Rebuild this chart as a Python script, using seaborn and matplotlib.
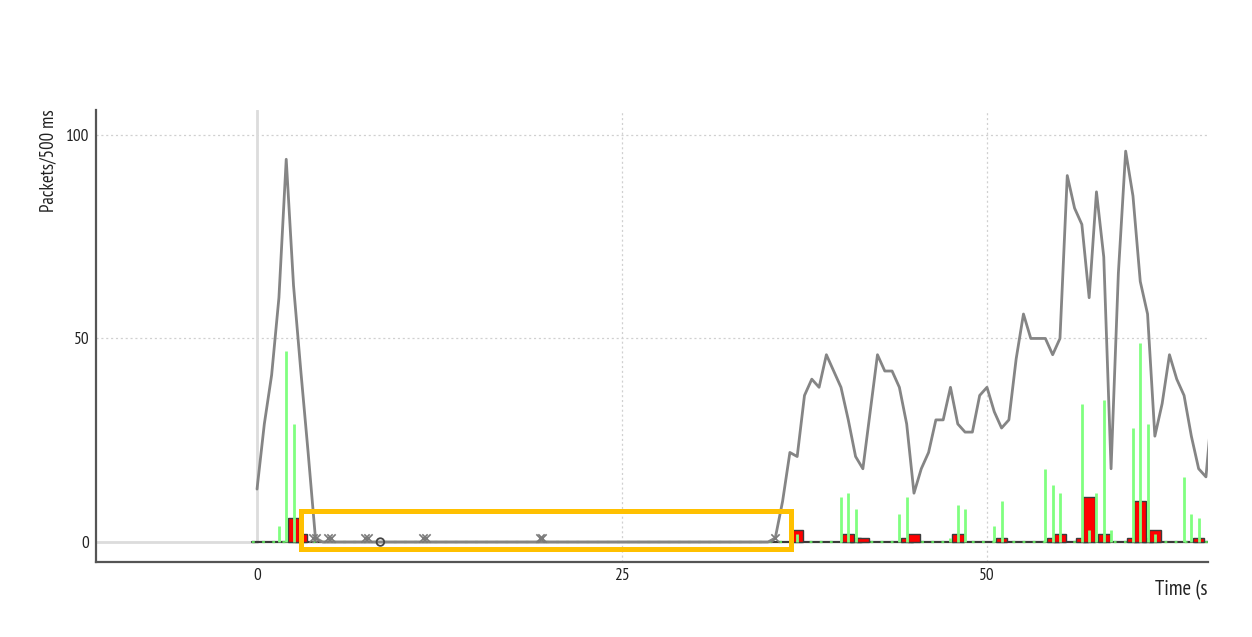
import numpy as np
import pandas as pd
import matplotlib
matplotlib.use("Agg")
import matplotlib.pyplot as plt
from matplotlib.patches import Rectangle
from matplotlib.ticker import MultipleLocator
import seaborn as sns

# ---------------- data ----------------
INTERVAL = 0.5  # seconds per bin (Packets/500 ms)

# all packets per 500 ms, one value per bin starting at t = 0
all_packets = [
    13, 29, 41, 60, 94, 63, 42, 22, 1,
    0, 0, 0, 0, 0, 0, 0, 0, 0, 0, 0, 0, 0, 0, 0, 0, 0, 0, 0, 0, 0, 0,
    0, 0, 0, 0, 0, 0, 0, 0, 0, 0, 0, 0, 0, 0, 0, 0, 0, 0, 0, 0, 0, 0,
    0, 0, 0, 0, 0, 0, 0, 0, 0, 0, 0, 0, 0, 0, 0, 0, 0, 0,
    1,
    10, 22, 21, 36, 40, 38, 46, 42, 38, 30, 21, 18, 32, 46, 42, 42, 38, 29,
    12, 18, 22, 30, 30, 38, 29, 27, 27, 36, 38, 32, 28, 30, 45, 56, 50, 50,
    50, 46, 50, 90, 82, 78, 60, 86, 70, 18, 66, 96, 85, 64, 56, 26, 34, 46,
    40, 36, 26, 18, 16, 36,
]

# red bar series (bin time, packets)
red_times = [2.5, 3.0, 37.0, 40.5, 41.0, 41.5, 44.5, 45.0, 48.0, 51.0,
             54.5, 55.0, 56.5, 57.0, 58.0, 60.0, 60.5, 61.0, 61.5, 64.5]
red_values = [6, 2, 3, 2, 1, 1, 1, 2, 2, 1,
              1, 2, 1, 11, 2, 1, 10, 1, 3, 1]

# green impulse series (bin time, packets)
green_times = [1.5, 2.0, 2.5, 36.5, 37.0, 40.0, 40.5, 41.0, 44.0, 44.5,
               47.5, 48.0, 48.5, 50.5, 51.0, 54.0, 54.5, 55.0, 56.5, 57.0,
               57.5, 58.0, 58.5, 60.0, 60.5, 61.0, 61.5, 63.5, 64.0, 64.5]
green_values = [4, 47, 29, 8, 2, 11, 12, 8, 7, 11,
                1, 9, 8, 4, 10, 18, 14, 12, 34, 3,
                12, 35, 3, 28, 49, 29, 2, 16, 7, 6]

# event markers near the baseline
cross_times = [3.85, 4.05, 4.85, 5.05, 7.4, 7.6, 11.35, 11.55, 19.35, 19.55, 35.45]
cross_values = [1, 1, 1, 1, 1, 1, 1, 1, 1, 1, 1]
circle_times = [8.45]
circle_values = [0]

x_ticks = [0, 25, 50]
y_ticks = [0, 50, 100]
x_label = "Time (s)"
y_label = "Packets/500 ms"

# highlighted range (yellow box)
HL_T = (3.0, 36.55)
HL_V = (-1.7, 7.7)

# ---------------- styling ----------------
sns.set_style("white")
plt.rcParams["font.family"] = ["PT Sans Narrow", "DejaVu Sans"]
plt.rcParams["lines.scale_dashes"] = False

W, H = 1252, 637
fig = plt.figure(figsize=(W / 100, H / 100), dpi=100)
ax = fig.add_axes([96 / W, 1 - 562 / H, (1208 - 96) / W, (562 - 110) / H])

XLIM = (-11.03, 65.14)
YLIM = (-4.9, 106.1)
ax.set_xlim(*XLIM)
ax.set_ylim(*YLIM)

# grid (dotted) and zero lines
for gx in x_ticks[1:]:
    ax.axvline(gx, color="#d0d0d0", lw=0.9, ls=(0, (1.5, 2)), zorder=0)
for gy in y_ticks[1:]:
    ax.axhline(gy, color="#d0d0d0", lw=0.9, ls=(0, (1.5, 2)), zorder=0)
y0_frac = (0 - YLIM[0]) / (YLIM[1] - YLIM[0])
x0_frac = (0 - XLIM[0]) / (XLIM[1] - XLIM[0])
ax.axvline(0, ymin=y0_frac, ymax=1, color="#dcdcdc", lw=2, zorder=0)
ax.axhline(0, xmin=0, xmax=x0_frac, color="#dcdcdc", lw=2, zorder=0)

# baseline of the series (dark line with green dots every bin)
base_start = (-0.35 - XLIM[0]) / (XLIM[1] - XLIM[0])
ax.axhline(0, xmin=base_start, xmax=1, color="#3a3a3a", lw=1.6, zorder=2)
ax.axhline(0, xmin=base_start, xmax=1, color="#5cd65c", lw=1.6,
           ls=(0, (2, 5.3)), zorder=2.1)

# red bars: taller bars are drawn on top
red_df = pd.DataFrame({"t": red_times, "v": red_values}).sort_values("v", kind="stable")
for i, (t, v) in enumerate(zip(red_df["t"], red_df["v"])):
    ax.bar(t, v, width=0.8, color="#ff0000", edgecolor="#3c3c3c",
           linewidth=1.0, zorder=3 + i * 0.001)

# green impulses
ax.vlines(green_times, 0, green_values, color="#80ff80", lw=2, zorder=4)

# all-packets line
line_df = pd.DataFrame({
    "t": np.arange(len(all_packets)) * INTERVAL,
    "v": all_packets,
})
sns.lineplot(data=line_df, x="t", y="v", ax=ax, color="#858585", lw=2,
             zorder=5, legend=False)

# markers
sns.scatterplot(x=cross_times, y=cross_values, ax=ax, marker="x", s=36,
                color="#7a7a7a", linewidth=1.2, zorder=6, legend=False)
sns.scatterplot(x=circle_times, y=circle_values, ax=ax, marker="o", s=30,
                facecolor="none", edgecolor="#444444", linewidth=1.3,
                zorder=6, legend=False)

# highlight box
ax.add_patch(Rectangle((HL_T[0], HL_V[0]), HL_T[1] - HL_T[0], HL_V[1] - HL_V[0],
                       fill=False, edgecolor="#ffc000", lw=3.6, zorder=10,
                       clip_on=False))

# axes styling
for s in ["top", "right"]:
    ax.spines[s].set_visible(False)
for s in ["left", "bottom"]:
    ax.spines[s].set_color("#555555")
    ax.spines[s].set_linewidth(1.6)

ax.set_xticks(x_ticks)
ax.set_yticks(y_ticks)
ax.xaxis.set_minor_locator(MultipleLocator(5))
ax.yaxis.set_minor_locator(MultipleLocator(10))
ax.tick_params(which="major", direction="in", length=7, width=1.4,
               color="#555555", labelsize=12.5, labelcolor="#222222")
ax.tick_params(which="minor", direction="in", length=3, width=1.2,
               color="#555555")
ax.tick_params(axis="y", which="major", pad=5)
ax.tick_params(axis="x", which="major", pad=4)
ax.set_xlabel("")
ax.set_ylabel("")

fig.text(48 / W, 1 - 109 / H, y_label, rotation=90, ha="center", va="top",
         fontsize=13.5, color="#222222")
tl = fig.text(1155 / W, 1 - 590 / H, x_label, ha="left", va="center",
              fontsize=15, color="#222222")
clip_rect = Rectangle((0, 0), 1208 / W, 1, transform=fig.transFigure)
tl.set_clip_path(clip_rect)

fig.savefig("out.png", dpi=100, facecolor="white")
